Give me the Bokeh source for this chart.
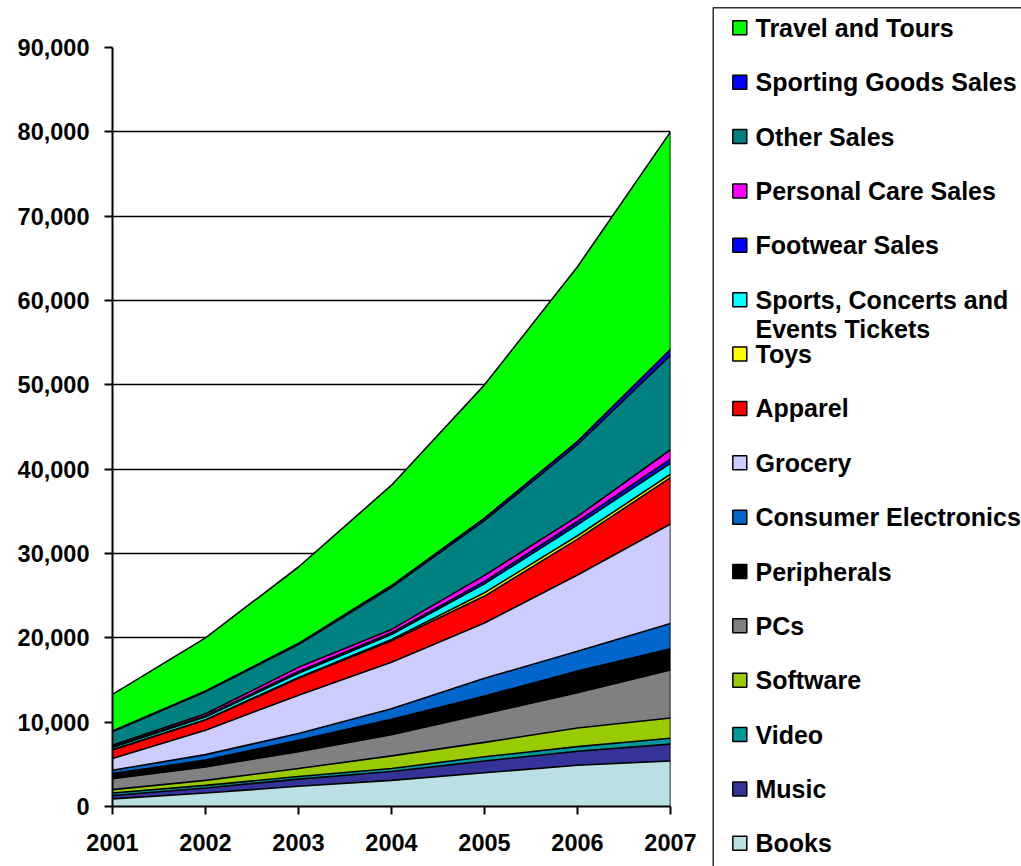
from bokeh.plotting import figure
from bokeh.layouts import row
from bokeh.models import Range1d, NumeralTickFormatter, FixedTicker, ColumnDataSource
from bokeh.core.properties import value
from bokeh.embed import file_html
from bokeh.resources import INLINE

years = [2001, 2002, 2003, 2004, 2005, 2006, 2007]

# values per category (bottom of stack first)
books = [900, 1600, 2400, 3100, 4000, 4900, 5400]
music = [400, 600, 850, 1050, 1400, 1650, 2000]
video = [300, 300, 300, 350, 500, 550, 700]
software = [400, 600, 950, 1500, 1700, 2200, 2400]
pcs = [1300, 1600, 2000, 2500, 3400, 4200, 5700]
peripherals = [600, 800, 1350, 1850, 2100, 2550, 2500]
consumer_electronics = [400, 650, 800, 1250, 2100, 2350, 3000]
grocery = [1400, 2900, 4550, 5500, 6550, 9050, 11800]
apparel = [1000, 1200, 2000, 2550, 3200, 4250, 5500]
toys = [50, 50, 100, 150, 400, 400, 400]
tickets = [250, 300, 500, 600, 1050, 1300, 1300]
footwear = [100, 150, 200, 200, 300, 400, 500]
personal_care = [150, 250, 500, 400, 700, 600, 1100]
other_sales = [1600, 2600, 2700, 5000, 6500, 8500, 11200]
sporting_goods = [100, 100, 150, 200, 300, 400, 700]
travel = [4350, 6300, 9050, 11900, 15800, 20700, 25800]

series_names = ["Books", "Music", "Video", "Software", "PCs", "Peripherals",
                "Consumer Electronics", "Grocery", "Apparel", "Toys",
                "Sports, Concerts and Events Tickets", "Footwear Sales",
                "Personal Care Sales", "Other Sales", "Sporting Goods Sales",
                "Travel and Tours"]
legend_labels = ["Books", "Music", "Video", "Software", "PCs", "Peripherals",
                 "Consumer Electronics", "Grocery", "Apparel", "Toys",
                 "Sports, Concerts and\nEvents Tickets", "Footwear Sales",
                 "Personal Care Sales", "Other Sales", "Sporting Goods Sales",
                 "Travel and Tours"]
series_values = [books, music, video, software, pcs, peripherals,
                 consumer_electronics, grocery, apparel, toys, tickets,
                 footwear, personal_care, other_sales, sporting_goods, travel]
colors = ["#BBE0E3", "#333399", "#009999", "#99CC00", "#808080", "#000000",
          "#0066CC", "#CCCCFF", "#FF0000", "#FFFF00", "#00FFFF", "#0000FF",
          "#FF00FF", "#008080", "#0000FF", "#00FF00"]

y_ticks = list(range(0, 90001, 10000))

FONT = "Liberation Sans"

data = {"year": years}
keys = []
for i, vals in enumerate(series_values):
    k = "s%d" % i
    data[k] = vals
    keys.append(k)
source = ColumnDataSource(data)

totals = [sum(v[j] for v in series_values) for j in range(len(years))]

p = figure(width=700, height=866,
           x_range=Range1d(years[0], years[-1]),
           y_range=Range1d(y_ticks[0], y_ticks[-1]),
           output_backend="svg", toolbar_location=None,
           min_border_left=112, min_border_right=30,
           min_border_top=47, min_border_bottom=60)

p.varea_stack(keys, x="year", color=colors, source=source)
p.vline_stack(keys, x="year", color="black", line_width=1.6, source=source)
p.segment(x0=[years[-1]], y0=[0], x1=[years[-1]], y1=[totals[-1]],
          line_color="black", line_width=1.6)

p.outline_line_color = None
p.xgrid.visible = False
p.ygrid.grid_line_color = "black"
p.ygrid.grid_line_width = 1.3
p.ygrid.ticker = FixedTicker(ticks=y_ticks)

p.xaxis.ticker = FixedTicker(ticks=years)
p.yaxis.ticker = FixedTicker(ticks=y_ticks)
p.yaxis.formatter = NumeralTickFormatter(format="0,0")
for ax in (p.xaxis, p.yaxis):
    ax.axis_line_color = "black"
    ax.axis_line_width = 2
    ax.major_tick_line_color = "black"
    ax.major_tick_line_width = 2
    ax.major_tick_in = 0
    ax.major_tick_out = 8
    ax.minor_tick_line_color = None
    ax.major_label_text_font = FONT
    ax.major_label_text_font_style = "bold"
    ax.major_label_text_font_size = "23.5px"
    ax.major_label_text_color = "black"
p.yaxis.major_label_standoff = 15
p.xaxis.major_label_standoff = 19

# legend panel
LW, LH = 321, 866
lg = figure(width=LW, height=LH, x_range=Range1d(0, LW), y_range=Range1d(LH, 0),
            output_backend="svg", toolbar_location=None,
            x_axis_type=None, y_axis_type=None,
            min_border_left=0, min_border_right=0, min_border_top=0, min_border_bottom=0)
lg.outline_line_color = None
lg.xgrid.visible = False
lg.ygrid.visible = False

for fig in (p, lg):
    try:
        fig.frame_align = False
    except Exception:
        pass

lg.quad(left=[12.7], right=[LW + 50], top=[7.3], bottom=[LH + 50],
        fill_color=None, line_color="#333333", line_width=1.5)

n = len(series_names)
order = list(range(n))[::-1]
row_step = 54.37
first_y = 27.3
sq_y = [first_y + row_step * k for k in range(n)]
lg.scatter(x=[39.3] * n, y=sq_y, marker="square", size=14,
           fill_color=[colors[i] for i in order], line_color="black", line_width=1.5)

tx, ty, tt = [], [], []
for k, i in enumerate(order):
    for j, line in enumerate(legend_labels[i].split("\n")):
        tx.append(55)
        ty.append(sq_y[k] + 29 * j)
        tt.append(line)
lg.text(x=tx, y=ty, text=tt, text_font=value(FONT), text_font_style="bold",
        text_font_size="25px", text_baseline="middle", text_align="left",
        text_color="black")

layout = row(p, lg)
open("out.html", "w").write(file_html(layout, INLINE))
